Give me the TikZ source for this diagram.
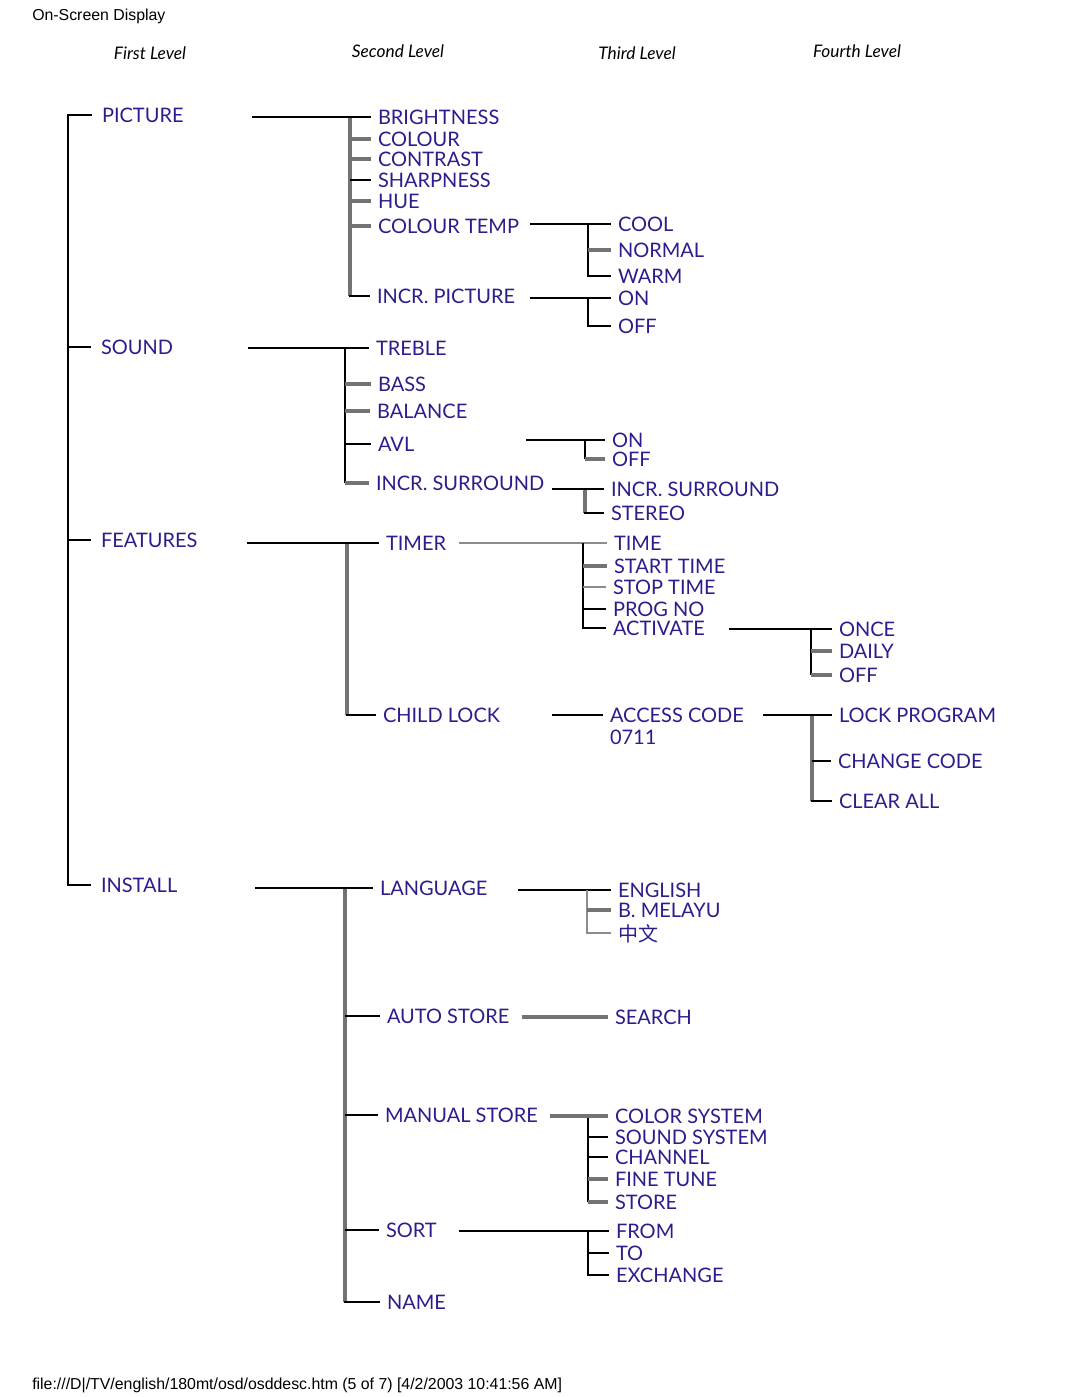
\documentclass[tikz,border=0pt]{standalone}
\usepackage{fontspec}
\setmainfont{Liberation Sans}
\newfontfamily\osdfont{Lato}
\newfontfamily\cjk{Noto Sans CJK SC}
\definecolor{osdblue}{RGB}{43,30,140}
\definecolor{bargray}{RGB}{115,115,115}
\definecolor{palegray}{RGB}{140,140,140}
\begin{document}
\begin{tikzpicture}[x=0.75pt, y=-0.75pt,
  item/.style={anchor=west, inner sep=0pt, outer xsep=5.25pt, text depth=0pt,
    font=\osdfont\fontsize{15}{17}\selectfont, text=osdblue},
  top/.style={item, outer xsep=7.5pt},
  hdr/.style={inner sep=0pt, font=\osdfont\itshape\fontsize{13}{15}\selectfont},
  page/.style={anchor=west, inner sep=0pt, font=\fontsize{11.9}{14}\selectfont},
  blk/.style={draw=black, line width=1.4pt},
  gry/.style={draw=bargray, line width=3pt},
  fine/.style={draw=palegray, line width=1.1pt}]
\useasboundingbox (0,0) rectangle (1080,1397);

% page text and column heads
\node[page] (title) at (32,16) {On-Screen Display};
\node[page] (footer) at (32,1385) {file:///D|/TV/english/180mt/osd/osddesc.htm (5 of 7) [4/2/2003 10:41:56 AM]};
\node[hdr] (first) at (150,53) {First Level};
\node[hdr] (second) at (398,51) {Second Level};
\node[hdr] (third) at (637,53) {Third Level};
\node[hdr] (fourth) at (857,51) {Fourth Level};

% first level
\node[top] (picture) at (92,115) {PICTURE};
\node[top] (sound) at (91,347) {SOUND};
\node[top] (features) at (91,540) {FEATURES};
\node[top] (install) at (91,885) {INSTALL};
\coordinate (root) at (68,0);
\draw[blk] (picture.west) -| (root |- install.west) -- (install.west);
\draw[blk] (root |- sound.west) -- (sound.west);
\draw[blk] (root |- features.west) -- (features.west);

% picture
\node[item] (bright) at (371,117) {BRIGHTNESS};
\node[item] (colour) at (371,139) {COLOUR};
\node[item] (contrast) at (371,159) {CONTRAST};
\node[item] (sharp) at (371,180) {SHARPNESS};
\node[item] (hue) at (371,201) {HUE};
\node[item] (ctemp) at (371,226) {COLOUR TEMP};
\node[item] (incrpic) at (370,296) {INCR. PICTURE};
\coordinate (picture-out) at (252,117);
\coordinate (picbar) at (350,0);
\draw[gry] (picbar |- bright.west) -- (picbar |- incrpic.west);
\draw[blk] (picture-out) -- (bright.west);
\draw[gry] (picbar |- colour.west) -- (colour.west);
\draw[gry] (picbar |- contrast.west) -- (contrast.west);
\draw[blk] (picbar |- sharp.west) -- (sharp.west);
\draw[gry] (picbar |- hue.west) -- (hue.west);
\draw[gry] (picbar |- ctemp.west) -- (ctemp.west);
\draw[blk] ([xshift=-1.1pt]picbar |- incrpic.west) -- (incrpic.west);

\node[item] (cool) at (611,224) {COOL};
\node[item] (normal) at (611,250) {NORMAL};
\node[item] (warm) at (611,276) {WARM};
\coordinate (ctemp-out) at (530,224);
\coordinate (ctbar) at (588,0);
\draw[blk] (ctemp-out) -- (cool.west);
\draw[blk] (ctbar |- cool.west) |- (warm.west);
\draw[gry] (ctbar |- normal.west) -- (normal.west);

\node[item] (picon) at (611,298) {ON};
\node[item] (picoff) at (611,326) {OFF};
\coordinate (incrpic-out) at (530,298);
\draw[blk] (incrpic-out) -- (picon.west);
\draw[blk] (ctbar |- picon.west) |- (picoff.west);

% sound
\node[item] (treble) at (369,348) {TREBLE};
\node[item] (bass) at (371,384) {BASS};
\node[item] (balance) at (370,411) {BALANCE};
\node[item] (avl) at (371,444) {AVL};
\node[item] (incrsur) at (369,483) {INCR. SURROUND};
\coordinate (sound-out) at (248,348);
\coordinate (sndbar) at (345,0);
\draw[blk] (sound-out) -- (treble.west);
\draw[blk] (sndbar |- treble.west) -- (sndbar |- incrsur.west);
\draw[gry] (sndbar |- bass.west) -- (bass.west);
\draw[gry] (sndbar |- balance.west) -- (balance.west);
\draw[blk] (sndbar |- avl.west) -- (avl.west);
\draw[gry] (sndbar |- incrsur.west) -- (incrsur.west);

\node[item] (avlon) at (605,440) {ON};
\node[item] (avloff) at (605,459) {OFF};
\coordinate (avl-out) at (526,440);
\coordinate (avlbar) at (585,0);
\draw[blk] (avl-out) -- (avlon.west);
\draw[blk] (avlbar |- avlon.west) -- (avlbar |- avloff.west);
\draw[gry] (avlbar |- avloff.west) -- (avloff.west);

\node[item] (surin) at (604,489) {INCR. SURROUND};
\node[item] (stereo) at (604,513) {STEREO};
\coordinate (incrsur-out) at (552,489);
\draw[gry] (avlbar |- surin.west) -- (avlbar |- stereo.west);
\draw[blk] (incrsur-out) -- (surin.west);
\draw[blk] ([xshift=-1.1pt]avlbar |- stereo.west) -- (stereo.west);

% features
\node[item] (timer) at (379,543) {TIMER};
\node[item] (childlock) at (376,715) {CHILD LOCK};
\coordinate (features-out) at (247,543);
\coordinate (featbar) at (347,0);
\draw[gry] (featbar |- timer.west) -- (featbar |- childlock.west);
\draw[blk] (features-out) -- (timer.west);
\draw[blk] ([xshift=-1.1pt]featbar |- childlock.west) -- (childlock.west);

\node[item] (time) at (607,543) {TIME};
\node[item] (start) at (607,566) {START TIME};
\node[item] (stop) at (606,587) {STOP TIME};
\node[item] (prog) at (606,609) {PROG NO};
\node[item] (activate) at (606,628) {ACTIVATE};
\coordinate (timer-out) at (459,543);
\coordinate (timbar) at (583,0);
\draw[fine] (timer-out) -- (time.west);
\draw[blk] (timbar |- time.west) |- (activate.west);
\draw[gry] (timbar |- start.west) -- (start.west);
\draw[fine] (timbar |- stop.west) -- (stop.west);
\draw[blk] (timbar |- prog.west) -- (prog.west);

\node[item] (once) at (832,629) {ONCE};
\node[item] (daily) at (832,651) {DAILY};
\node[item] (toff) at (832,675) {OFF};
\coordinate (activate-out) at (729,629);
\coordinate (actbar) at (811,0);
\draw[blk] (activate-out) -- (once.west);
\draw[blk] (actbar |- once.west) -- (actbar |- toff.west);
\draw[gry] (actbar |- daily.west) -- (daily.west);
\draw[gry] (actbar |- toff.west) -- (toff.west);

\node[item] (access) at (603,715) {ACCESS CODE};
\node[item] (code) at (603,737) {0711};
\coordinate (childlock-out) at (552,715);
\draw[blk] (childlock-out) -- (access.west);

\node[item] (lockprog) at (832,715) {LOCK PROGRAM};
\node[item] (changecode) at (831,761) {CHANGE CODE};
\node[item] (clearall) at (832,801) {CLEAR ALL};
\coordinate (access-out) at (763,715);
\coordinate (accbar) at (812,0);
\draw[gry] (accbar |- lockprog.west) -- (accbar |- clearall.west);
\draw[blk] (access-out) -- (lockprog.west);
\draw[blk] (accbar |- changecode.west) -- (changecode.west);
\draw[blk] ([xshift=-1.1pt]accbar |- clearall.west) -- (clearall.west);

% install
\node[item] (language) at (373,888) {LANGUAGE};
\node[item] (autostore) at (380,1016) {AUTO STORE};
\node[item] (manstore) at (378,1115) {MANUAL STORE};
\node[item] (sort) at (379,1230) {SORT};
\node[item] (name) at (380,1302) {NAME};
\coordinate (install-out) at (255,888);
\coordinate (instbar) at (345,0);
\draw[gry] (instbar |- language.west) -- (instbar |- name.west);
\draw[blk] (install-out) -- (language.west);
\draw[blk] (instbar |- autostore.west) -- (autostore.west);
\draw[blk] (instbar |- manstore.west) -- (manstore.west);
\draw[blk] (instbar |- sort.west) -- (sort.west);
\draw[blk] ([xshift=-1.1pt]instbar |- name.west) -- (name.west);

\node[item] (english) at (611,890) {ENGLISH};
\node[item] (melayu) at (611,910) {B. MELAYU};
\node[item, font=\cjk\fontsize{15}{17}\selectfont] (chinese) at (611,933) {中文};
\coordinate (language-out) at (518,890);
\coordinate (langbar) at (587,0);
\draw[blk] (language-out) -- (english.west);
\draw[fine] (langbar |- english.west) |- (chinese.west);
\draw[gry] (langbar |- melayu.west) -- (melayu.west);

\node[item] (search) at (608,1017) {SEARCH};
\coordinate (autostore-out) at (522,1017);
\draw[gry] (autostore-out) -- (search.west);

\node[item] (colorsys) at (608,1116) {COLOR SYSTEM};
\node[item] (soundsys) at (608,1137) {SOUND SYSTEM};
\node[item] (channel) at (608,1157) {CHANNEL};
\node[item] (finetune) at (608,1179) {FINE TUNE};
\node[item] (store) at (608,1202) {STORE};
\coordinate (manstore-out) at (550,1116);
\coordinate (msbar) at (588,0);
\draw[blk] (msbar |- colorsys.west) -- (msbar |- store.west);
\draw[gry] (manstore-out) -- (colorsys.west);
\draw[blk] (msbar |- soundsys.west) -- (soundsys.west);
\draw[blk] (msbar |- channel.west) -- (channel.west);
\draw[gry] (msbar |- finetune.west) -- (finetune.west);
\draw[gry] (msbar |- store.west) -- (store.west);

\node[item] (from) at (609,1231) {FROM};
\node[item] (to) at (609,1253) {TO};
\node[item] (exchange) at (609,1275) {EXCHANGE};
\coordinate (sort-out) at (459,1231);
\draw[blk] (sort-out) -- (from.west);
\draw[blk] (msbar |- from.west) |- (exchange.west);
\draw[blk] (msbar |- to.west) -- (to.west);
\end{tikzpicture}
\end{document}
